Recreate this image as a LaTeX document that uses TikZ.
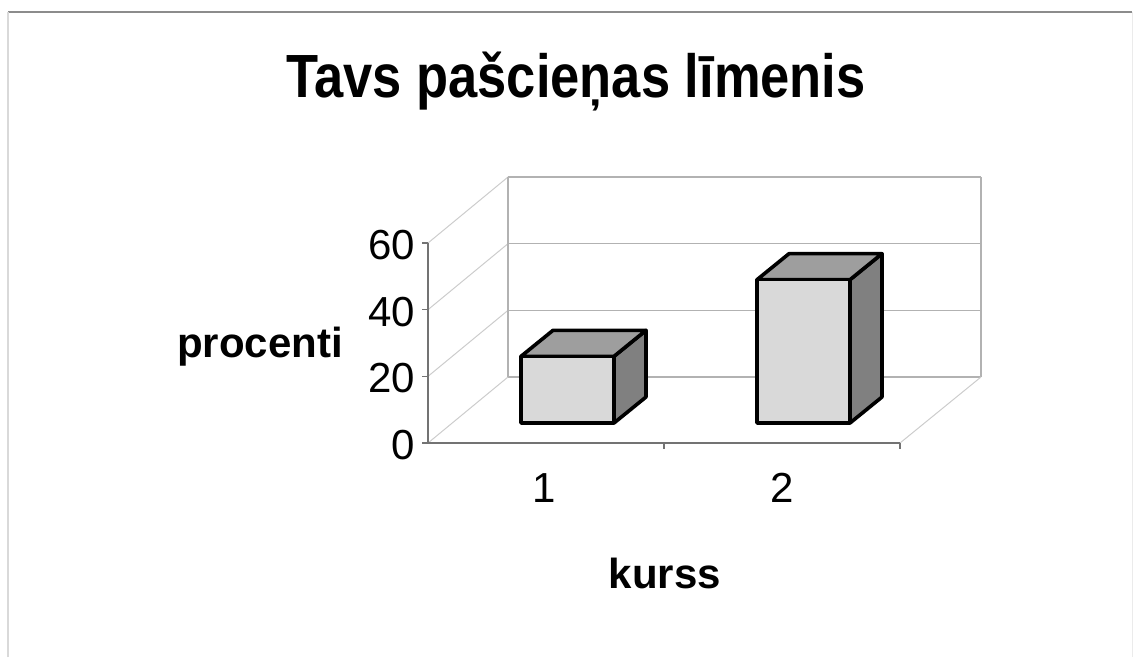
\documentclass[tikz,border=0pt]{standalone}
\usepackage{fontspec}
\setmainfont{Liberation Sans}
\usepackage{graphicx}
\usepackage{xcolor}
\colorlet{colorFront}{black!15}
\colorlet{colorTop}{black!38}
\colorlet{colorSide}{black!50}
\colorlet{colorGrid}{black!30}
\usepackage{tikz}
\usetikzlibrary{positioning}
\tikzset{
  gridline/.style={draw=colorGrid, line width=1.1pt},
  wallline/.style={draw=black!20, line width=1pt},
  axisline/.style={draw=black!55, line width=1.3pt},
  column/.style={draw=black, line width=3.6pt, line join=round},
  ticklabel/.style={font=\fontsize{42}{46}\selectfont, inner sep=0pt},
  axislabel/.style={font=\fontsize{42}{46}\selectfont\bfseries, inner sep=0pt},
}

\begin{document}
\begin{tikzpicture}[x=1pt, y=-1pt]
\useasboundingbox (0,0) rectangle (1135,657);
\draw[black!45, line width=2pt] (8,12) -- (1132,12);
\draw[black!15, line width=1.5pt] (8,657) -- (8,12);
\draw[black!8, line width=1pt] (1132,12) -- (1132,657);
% walls and floor
\foreach \v in {0,20,40,60} {
  \draw[gridline] (508,{377-\v*10/3}) -- (981,{377-\v*10/3});
  \draw[wallline] (428,{443-\v*10/3}) -- (508,{377-\v*10/3});
}
\draw[gridline] (508,377) -- (508,177);
\draw[gridline] (981,377) -- (981,177);
\draw[wallline] (900,443) -- (981,377);
% axes
\draw[axisline] (428,243) -- (428,443) -- (900,443);
\foreach \v in {0,20,40,60}
  \draw[axisline] (422,{443-\v*10/3}) -- (428,{443-\v*10/3});
\foreach \x in {664,900}
  \draw[axisline] (\x,443) -- (\x,449);
% columns
\foreach \x/\v in {521/20, 757/43} {
  \pgfmathsetmacro\ytop{423-\v*10/3}
  \filldraw[column, fill=colorSide] (\x+93,423) -- (\x+93,\ytop) -- (\x+125,\ytop-26) -- (\x+125,397) -- cycle;
  \filldraw[column, fill=colorTop] (\x,\ytop) -- (\x+32,\ytop-26) -- (\x+125,\ytop-26) -- (\x+93,\ytop) -- cycle;
  \filldraw[column, fill=colorFront] (\x,423) rectangle (\x+93,\ytop);
}
% labels
\node[font=\fontsize{61}{70}\selectfont\bfseries, anchor=base] (title) at (576,97) {\scalebox{0.86}[1]{Tavs pašcieņas līmenis}};
\foreach \v in {0,20,40,60}
  \node[ticklabel, anchor=east] (t\v) at (415,{445-\v*10/3}) {\v};
\node[ticklabel] (c1) at (544,488) {1};
\node[ticklabel] (c2) at (782,488) {2};
\node[axislabel, anchor=base east] (procenti) at (343,357) {procenti};
\node[axislabel, anchor=base] (kurss) at (665,588) {kurss};
\end{tikzpicture}
\end{document}
